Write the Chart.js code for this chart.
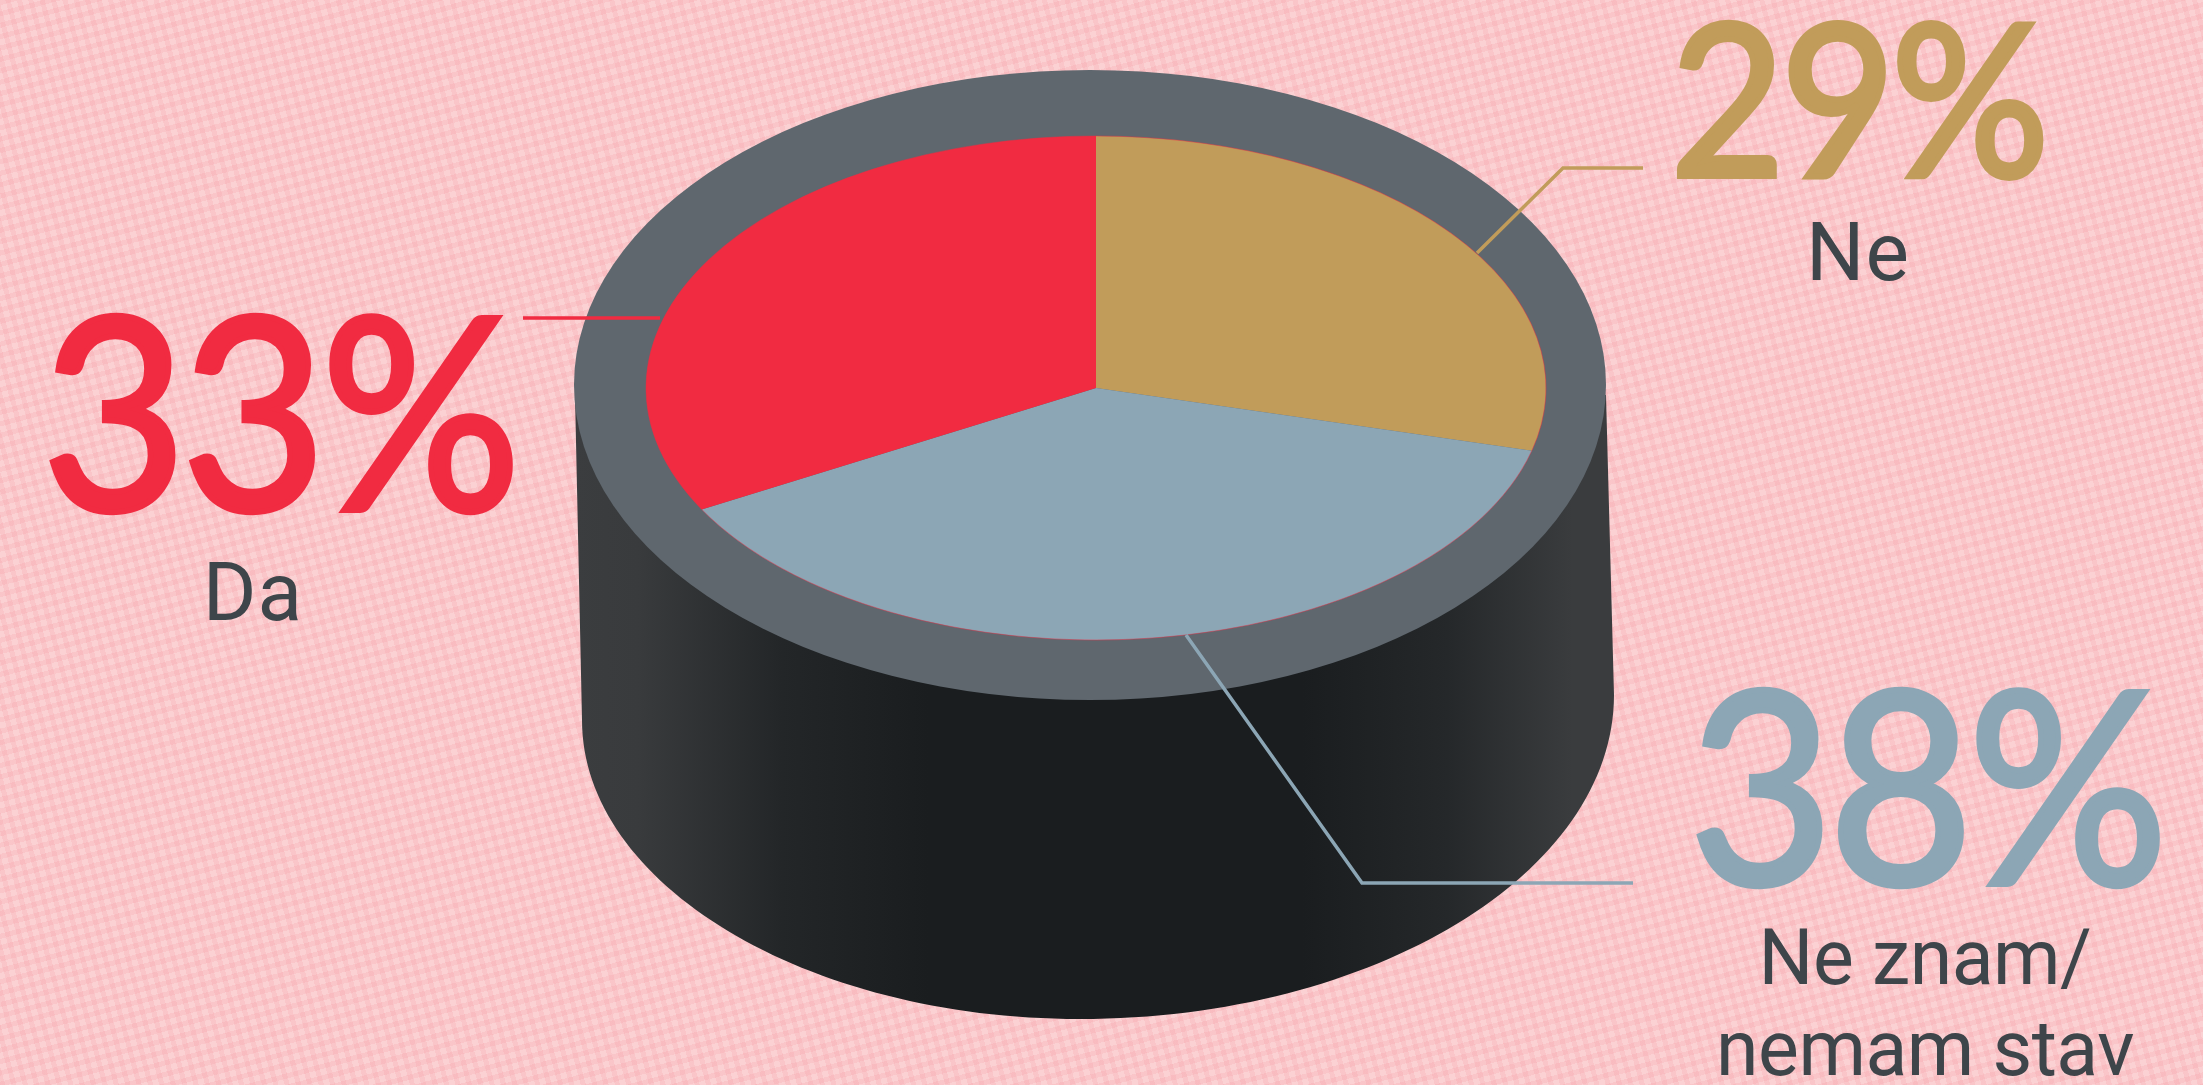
<!DOCTYPE html>
<html lang="hr">
<head>
    <meta charset="UTF-8">
    <title>Da / Ne / Ne znam</title>
    <style>
        html, body {
            margin: 0;
            padding: 0;
            width: 2203px;
            height: 1085px;
            overflow: hidden;
        }
        body {
            position: relative;
            background-color: #fbd1d3;
            background-image:
                repeating-linear-gradient(75deg, rgba(244, 140, 150, 0.17) 0 5px, rgba(255, 255, 255, 0) 5px 11px),
                repeating-linear-gradient(165deg, rgba(244, 140, 150, 0.17) 0 5px, rgba(255, 255, 255, 0) 5px 11px);
            font-family: Roboto, sans-serif;
        }
        canvas {
            position: absolute;
            left: 0;
            top: 0;
        }
        .pct, .name {
            position: absolute;
            text-align: center;
            white-space: nowrap;
            line-height: 1;
        }
        .pct {
            font-family: Lato, sans-serif;
            letter-spacing: -0.02em;
            -webkit-text-stroke: 6px currentColor;
            transform: translateX(-50%) scaleX(0.93);
        }
        .name {
            color: #3e454a;
            transform: translateX(-50%);
        }
    </style>
</head>
<body>
    <canvas id="puck" width="2203" height="1085"></canvas>
    <script src="https://cdn.jsdelivr.net/npm/chart.js"></script>
    <script>
        const categories = ['Ne', 'Ne znam/\nnemam stav', 'Da'];
        const values = [29, 38, 33];
        const sliceColors = ['#c19c5a', '#8ca6b5', '#f12b41'];

        // where the squashed pie and its labels sit on the page
        const top3d = { x: 1096, y: 388, rx: 450, ry: 252 };
        const rim = { x: 1090, y: 385, rx: 516, ry: 315 };
        const leaders = [
            [[1643, 168], [1563, 168], [1477, 253]],
            [[1633, 883], [1362, 883], [1186, 635]],
            [[523, 318], [660, 318]]
        ];
        const pctPlace = [
            { x: 1858, top: -12, size: 212 },
            { x: 1926, top: 646, size: 268 },
            { x: 279, top: 272, size: 268 }
        ];
        const namePlace = [
            { x: 1858, tops: [211], size: 82, gap: 1 },
            { x: 1925, tops: [920, 1011], size: 77, gap: -0.5 },
            { x: 253, tops: [551], size: 82, gap: 1 }
        ];

        const puckPlugin = {
            id: 'puck',
            beforeDatasetsDraw(chart) {
                const ctx = chart.ctx;
                const a = chart.chartArea;

                // side of the cylinder
                const side = ctx.createLinearGradient(575, 0, 1614, 0);
                side.addColorStop(0, '#3b3d3f');
                side.addColorStop(0.06, '#393b3d');
                side.addColorStop(0.2, '#232628');
                side.addColorStop(0.34, '#1a1d1f');
                side.addColorStop(0.7, '#1a1d1f');
                side.addColorStop(0.84, '#25282a');
                side.addColorStop(0.96, '#3a3c3e');
                side.addColorStop(1, '#3a3c3e');
                ctx.fillStyle = side;
                ctx.beginPath();
                ctx.moveTo(575, 395);
                ctx.lineTo(582, 720);
                ctx.bezierCurveTo(582, 884, 806, 1019, 1080, 1019);
                ctx.bezierCurveTo(1374, 1019, 1614, 873, 1614, 695);
                ctx.lineTo(1606, 395);
                ctx.closePath();
                ctx.fill();

                // top rim
                ctx.fillStyle = '#5f676e';
                ctx.beginPath();
                ctx.ellipse(rim.x, rim.y, rim.rx, rim.ry, 0, 0, Math.PI * 2);
                ctx.fill();

                // squash the pie into the top face
                ctx.save();
                ctx.translate(top3d.x, top3d.y);
                ctx.scale(1, top3d.ry / top3d.rx);
                ctx.translate(-(a.left + a.right) / 2, -(a.top + a.bottom) / 2);
            },
            afterDatasetsDraw(chart) {
                const ctx = chart.ctx;
                ctx.restore();

                // thin red edge around the face
                ctx.strokeStyle = 'rgba(241, 43, 65, 0.45)';
                ctx.lineWidth = 1;
                ctx.beginPath();
                ctx.ellipse(top3d.x, top3d.y, top3d.rx, top3d.ry, 0, 0, Math.PI * 2);
                ctx.stroke();

                leaders.forEach((pts, i) => {
                    ctx.strokeStyle = sliceColors[i];
                    ctx.lineWidth = 3.5;
                    ctx.lineJoin = 'miter';
                    ctx.beginPath();
                    pts.forEach((p, j) => j ? ctx.lineTo(p[0], p[1]) : ctx.moveTo(p[0], p[1]));
                    ctx.stroke();
                });
            }
        };

        new Chart(document.getElementById('puck'), {
            type: 'pie',
            data: {
                labels: categories,
                datasets: [{ data: values, backgroundColor: sliceColors, borderWidth: 0 }]
            },
            options: {
                responsive: false,
                animation: false,
                radius: top3d.rx,
                layout: { padding: 0 },
                plugins: { legend: { display: false }, tooltip: { enabled: false } }
            },
            plugins: [puckPlugin]
        });

        // percentages and names as real text
        values.forEach((v, i) => {
            const pct = document.createElement('div');
            pct.className = 'pct';
            pct.textContent = v + '%';
            pct.style.left = pctPlace[i].x + 'px';
            pct.style.top = pctPlace[i].top + 'px';
            pct.style.fontSize = pctPlace[i].size + 'px';
            pct.style.color = sliceColors[i];
            document.body.appendChild(pct);

            categories[i].split('\n').forEach((line, j) => {
                const name = document.createElement('div');
                name.className = 'name';
                name.textContent = line;
                name.style.left = namePlace[i].x + 'px';
                name.style.top = namePlace[i].tops[j] + 'px';
                name.style.fontSize = namePlace[i].size + 'px';
                name.style.letterSpacing = namePlace[i].gap + 'px';
                document.body.appendChild(name);
            });
        });
    </script>
</body>
</html>
